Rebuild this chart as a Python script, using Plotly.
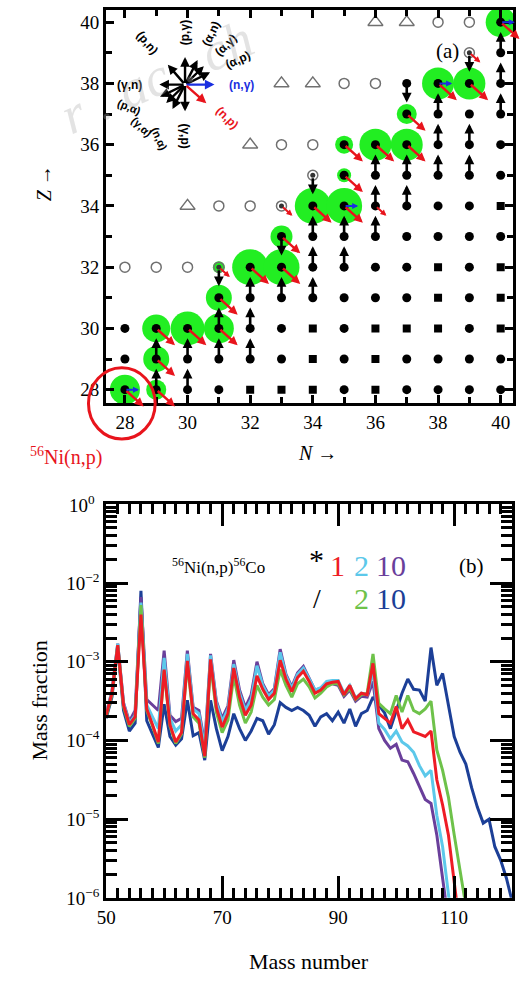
import plotly.graph_objects as go

W, H = 524, 985
SERIF = "Liberation Serif"
SANS = "Liberation Sans"

# ---------------- Panel (a): nuclide chart (N, Z) ----------------
N_RANGE = [27.4, 40.4]
Z_RANGE = [27.55, 40.4]

filled_circle_rows = {
    28: [28, 29, 30, 31, 35, 37, 38, 39, 40],
    29: [28, 29, 30, 31, 32, 33, 35, 37, 38, 39, 40],
    30: [28, 29, 30, 31, 32, 33, 35, 39],
    31: [31, 32, 33, 34, 35, 36, 37, 39],
    32: [32, 33, 34, 35, 36, 37, 39],
    33: [33, 34, 35, 36, 37, 38, 39, 40],
    34: [34, 35, 36, 37, 38, 39],
    35: [35, 36, 37, 38, 39, 40],
    36: [35, 36, 37, 38, 39, 40],
    37: [37, 38, 39, 40],
    38: [37, 38, 39, 40],
    39: [40],
    40: [40],
}
filled_square_rows = {28: [32, 33, 34, 36], 29: [34, 36], 30: [34, 36, 37, 38, 40],
                      31: [38, 40], 32: [38, 40], 34: [40]}
open_circle_rows = {32: [28, 29, 30, 31], 34: [31, 32, 33], 35: [34], 36: [33, 34],
                    38: [35, 36], 39: [39], 40: [38, 39]}
open_triangle_rows = {34: [30], 36: [32], 38: [33, 34], 40: [36, 37]}
inner_dots = [(34, 35), (39, 39), (31, 32), (33, 34)]

# waiting-point halos: (N, Z, diameter)
halos = [(28, 28, 30), (29, 28, 20), (29, 29, 26), (29, 30, 28), (30, 30, 34), (31, 30, 30),
         (31, 31, 26), (31, 32, 12), (32, 32, 36), (33, 32, 36), (33, 33, 22), (34, 34, 36),
         (35, 34, 36), (35, 35, 14), (35, 36, 18), (36, 36, 32), (37, 36, 32), (37, 37, 20),
         (38, 38, 32), (39, 38, 32), (40, 40, 30)]

# reaction flows
pg_flows = [(29, 28), (29, 29), (30, 28), (30, 29), (31, 29), (31, 30), (32, 29), (32, 30),
            (32, 31), (33, 31), (34, 31), (34, 32), (34, 33), (35, 32), (35, 33), (36, 33),
            (36, 34), (36, 35), (37, 34), (37, 35), (38, 35), (38, 36), (38, 37), (39, 35),
            (39, 36), (40, 37), (40, 38), (40, 39)]
gp_flows = [(31, 32), (33, 33), (34, 35), (37, 38), (39, 39)]
np_flows = [(28, 28), (29, 28), (29, 29), (29, 30), (30, 30), (31, 30), (31, 31), (32, 32),
            (33, 32), (33, 33), (34, 34), (35, 34), (35, 35), (35, 36), (36, 36), (37, 36),
            (37, 37), (38, 38), (39, 38), (40, 40)]
np_small = [(31, 32), (36, 34), (39, 39), (33, 34)]
ng_flows = [(28, 28), (35, 34), (38, 38), (40, 40)]

# reaction legend star
STAR = (29.92, 37.96)
star_arrows = [  # (dN, dZ, colour)
    (0.0, 0.9, "black"), (0.0, -0.87, "black"), (-0.82, 0.0, "black"),
    (-0.55, 0.65, "black"), (0.4, 0.8, "black"), (0.6, 0.6, "black"), (0.8, 0.4, "black"),
    (-0.8, -0.4, "black"), (-0.6, -0.6, "black"), (-0.4, -0.8, "black"),
    (0.94, 0.0, "#1a2fe0"), (0.68, -0.61, "#e8141c"),
]
star_labels = [  # (text, dN, dZ, angle, colour, size)
    ("(p,n)", -1.2, 1.35, 50, "black", 12), ("(p,γ)", 0.0, 1.68, -90, "black", 12),
    ("(α,n)", 0.82, 1.66, -64, "black", 12), ("(α,γ)", 1.3, 1.3, -45, "black", 12),
    ("(α,p)", 1.68, 0.8, -24, "black", 12), ("(γ,n)", -1.78, 0.0, 0, "black", 12),
    ("(n,γ)", 1.8, 0.0, 0, "#1a2fe0", 12), ("(n,p)", 1.35, -1.1, 45, "#e8141c", 12),
    ("(p,α)", -1.78, -0.74, 22, "black", 11), ("(γ,α)", -1.38, -1.38, 45, "black", 11),
    ("(n,α)", -0.82, -1.78, 66, "black", 11), ("(γ,p)", 0.0, -1.66, 90, "black", 12),
]

# ---------------- Panel (b): mass fractions (log10), A = 50, 51, ... ----------------
A_START = 50
log_x1 = [-3.68, -3.40, -2.79, -3.55, -3.80, -3.70, -2.40, -3.60, -3.80, -4.02,
          -3.10, -3.80, -4.02, -3.90, -2.99, -3.66, -3.74, -4.20, -2.97, -3.58,
          -3.83, -3.66, -3.08, -3.45, -3.68, -3.55, -3.18, -3.35, -3.48, -3.40,
          -2.98, -3.22, -3.38, -3.20, -3.12, -3.25, -3.40, -3.36, -3.28, -3.26,
          -3.25, -3.42, -3.30, -3.47, -3.40, -3.42, -3.02, -3.66, -3.72, -3.78,
          -3.57, -3.85, -3.74, -3.89, -3.92, -3.95, -3.88, -4.50, -4.82, -5.20,
          -5.80, -6.40]
log_x2 = [-3.66, -3.38, -2.77, -3.53, -3.78, -3.68, -2.25, -3.55, -3.70, -3.85,
          -2.95, -3.72, -3.88, -3.80, -2.90, -3.60, -3.66, -4.10, -2.92, -3.52,
          -3.76, -3.60, -3.03, -3.40, -3.62, -3.48, -3.05, -3.30, -3.44, -3.36,
          -2.88, -3.18, -3.34, -3.16, -3.08, -3.22, -3.36, -3.33, -3.25, -3.24,
          -3.24, -3.40, -3.30, -3.46, -3.40, -3.42, -3.12, -3.78, -3.86, -3.98,
          -3.88, -4.02, -4.07, -4.15, -4.32, -4.45, -4.38, -4.95, -5.35, -5.95,
          -6.50]
log_x10 = [-3.66, -3.38, -2.77, -3.52, -3.76, -3.62, -2.18, -3.48, -3.55, -3.62,
           -2.86, -3.68, -3.76, -3.72, -2.86, -3.58, -3.62, -4.05, -2.90, -3.50,
           -3.72, -3.56, -2.98, -3.36, -3.58, -3.42, -3.00, -3.28, -3.42, -3.34,
           -2.84, -3.16, -3.32, -3.14, -3.06, -3.22, -3.36, -3.34, -3.28, -3.28,
           -3.30, -3.44, -3.36, -3.50, -3.44, -3.45, -3.25, -3.85, -4.00, -4.10,
           -4.05, -4.25, -4.27, -4.42, -4.58, -4.75, -4.80, -5.20, -5.75, -6.30]
log_d2 = [-3.70, -3.42, -2.80, -3.57, -3.82, -3.72, -2.28, -3.62, -3.82, -4.04,
          -3.12, -3.82, -4.04, -3.92, -3.02, -3.70, -3.78, -4.22, -3.02, -3.64,
          -3.90, -3.74, -3.18, -3.55, -3.78, -3.64, -3.30, -3.45, -3.55, -3.48,
          -3.10, -3.30, -3.45, -3.28, -3.22, -3.32, -3.46, -3.40, -3.32, -3.28,
          -3.28, -3.42, -3.34, -3.48, -3.42, -3.40, -2.90, -3.53, -3.60, -3.66,
          -3.43, -3.64, -3.43, -3.62, -3.66, -3.60, -3.50, -4.12, -4.38, -4.72,
          -5.20, -5.62, -6.10]
log_d10 = [-3.72, -3.45, -2.82, -3.62, -3.88, -3.78, -2.10, -3.75, -3.92, -4.09,
           -3.54, -3.95, -4.06, -3.98, -3.49, -3.94, -3.90, -4.25, -3.49, -3.85,
           -4.13, -3.95, -3.66, -3.85, -4.00, -3.88, -3.72, -3.75, -3.92, -3.80,
           -3.52, -3.58, -3.62, -3.58, -3.62, -3.68, -3.82, -3.70, -3.66, -3.75,
           -3.64, -3.78, -3.60, -3.82, -3.66, -3.62, -3.45, -3.55, -3.65, -3.85,
           -3.62, -3.40, -3.22, -3.35, -3.36, -3.50, -2.82, -3.30, -3.15, -3.55,
           -3.95, -4.15, -4.30, -4.60, -4.85, -5.05, -5.00, -5.35, -5.52, -5.75,
           -6.05]

series = [  # (name, values, colour) drawn bottom to top
    ("/10", log_d10, "#1c3f97"),
    ("*10", log_x10, "#6a3f9b"),
    ("*2", log_x2, "#5cc8ea"),
    ("/2", log_d2, "#6ec24a"),
    ("*1", log_x1, "#ee1c25"),
]

X_TICKS_B = [50, 60, 70, 80, 90, 100, 110, 120]
X_TICKTEXT_B = ["50", "", "70", "", "90", "", "110", ""]
Y_TICKS_B = [1e-6, 1e-5, 1e-4, 1e-3, 1e-2]
Y_TICKTEXT_B = ["10<sup>−6</sup>", "10<sup>−5</sup>", "10<sup>−4</sup>", "10<sup>−3</sup>", "10<sup>−2</sup>"]


def px(x):
    return x / W


def py(y):
    return 1 - y / H


def flatten(rows):
    xs, ys = [], []
    for z, ns in rows.items():
        for n in ns:
            xs.append(n)
            ys.append(z)
    return xs, ys


fig = go.Figure()

# halos
fig.add_trace(go.Scatter(x=[h[0] for h in halos], y=[h[1] for h in halos], mode="markers",
                         marker=dict(size=[h[2] for h in halos], color="#22ee22", opacity=1, line=dict(width=0)),
                         hoverinfo="skip", showlegend=False, xaxis="x", yaxis="y"))
tx, ty = flatten(open_triangle_rows)
fig.add_trace(go.Scatter(x=tx, y=ty, mode="markers", showlegend=False, xaxis="x", yaxis="y",
                         marker=dict(symbol="triangle-up-open", size=13, color="#707070", line=dict(width=1.5))))
ox, oy = flatten(open_circle_rows)
fig.add_trace(go.Scatter(x=ox, y=oy, mode="markers", showlegend=False, xaxis="x", yaxis="y",
                         marker=dict(symbol="circle-open", size=10, color="#707070", line=dict(width=1.5))))
sx, sy = flatten(filled_square_rows)
fig.add_trace(go.Scatter(x=sx, y=sy, mode="markers", showlegend=False, xaxis="x", yaxis="y",
                         marker=dict(symbol="square", size=8, color="black")))
cx, cy = flatten(filled_circle_rows)
fig.add_trace(go.Scatter(x=cx, y=cy, mode="markers", showlegend=False, xaxis="x", yaxis="y",
                         marker=dict(symbol="circle", size=9, color="black")))
fig.add_trace(go.Scatter(x=[d[0] for d in inner_dots], y=[d[1] for d in inner_dots], mode="markers",
                         showlegend=False, xaxis="x", yaxis="y",
                         marker=dict(symbol="circle", size=5, color="#333333")))

annotations = []


def arrow(x0, y0, x1, y1, color, width=2.6, size=0.75):
    annotations.append(dict(x=x1, y=y1, ax=x0, ay=y0, xref="x", yref="y", axref="x", ayref="y",
                            showarrow=True, arrowhead=2, arrowsize=size, arrowwidth=width,
                            arrowcolor=color, text=""))


for n, z in pg_flows:
    arrow(n, z + 0.05, n, z + 0.68, "black")
for n, z in gp_flows:
    arrow(n, z - 0.05, n, z - 0.62, "black")
for n, z in np_flows:
    arrow(n, z, n + 0.6, z - 0.55, "#e8141c", width=2.4)
for n, z in np_small:
    arrow(n, z, n + 0.35, z - 0.32, "#e8141c", width=2.0, size=0.6)
for n, z in ng_flows:
    arrow(n, z, n + 0.45, z, "#1a2fe0", width=2.0, size=0.6)

for dn, dz, col in star_arrows:
    arrow(STAR[0], STAR[1], STAR[0] + dn, STAR[1] + dz, col, width=2.4, size=0.8)
for text, dn, dz, ang, col, fs in star_labels:
    annotations.append(dict(x=STAR[0] + dn, y=STAR[1] + dz, xref="x", yref="y", text="<b>" + text + "</b>",
                            showarrow=False, textangle=ang, font=dict(family=SANS, size=fs, color=col)))

# panel (b) lines
for name, vals, col in series:
    xs = list(range(A_START, A_START + len(vals)))
    ys = [10 ** v for v in vals]
    fig.add_trace(go.Scatter(x=xs, y=ys, mode="lines", name=name, showlegend=False,
                             line=dict(color=col, width=3), xaxis="x2", yaxis="y2"))


# text labels
def ptext(text, x, y, size, color="black", angle=0, family=SERIF, xanchor="center"):
    annotations.append(dict(x=px(x), y=py(y), xref="paper", yref="paper", text=text, showarrow=False,
                            textangle=angle, xanchor=xanchor, yanchor="middle",
                            font=dict(family=family, size=size, color=color)))


ptext("<i>r . ac . ch</i>", 150, 78, 54, color="rgba(170,170,170,0.33)", angle=-24)
ptext("(a)", 446, 52, 21)
ptext("<i>Z</i> →", 35, 185, 20, angle=-90)
ptext("<i>N</i> →", 313, 458, 20)
ptext("<sup>56</sup>Ni(n,p)", 57, 462, 20, color="#e8141c")
ptext("(b)", 470, 572, 21)
ptext("<sup>56</sup>Ni(n,p)<sup>56</sup>Co", 213, 572, 17)
ptext("*", 312, 566, 30)
ptext("1", 334, 572, 30, color="#ee1c25")
ptext("2", 358, 572, 30, color="#5cc8ea")
ptext("10", 388, 572, 30, color="#6a3f9b")
ptext("/", 313, 605, 28)
ptext("2", 358, 605, 30, color="#6ec24a")
ptext("10", 388, 605, 30, color="#1c3f97")
ptext("10<sup>0</sup>", 89, 510, 19, xanchor="right")
ptext("Mass fraction", 30, 708, 22, angle=-90)
ptext("Mass number", 305, 972, 22)

shapes = [dict(type="circle", xref="paper", yref="paper", x0=px(80), x1=px(148), y0=py(444), y1=py(372),
               line=dict(color="#e8141c", width=3))]

axis_common = dict(showline=True, linewidth=3, linecolor="black", mirror="allticks", showgrid=False,
                   zeroline=False, ticks="inside", tickcolor="black",
                   tickfont=dict(family=SERIF, size=19, color="black"))

fig.update_layout(
    width=W, height=H, autosize=False, margin=dict(l=0, r=0, t=0, b=0),
    paper_bgcolor="white", plot_bgcolor="white", showlegend=False,
    annotations=annotations, shapes=shapes,
    xaxis=dict(domain=[px(98), px(513)], range=N_RANGE, anchor="y", tickmode="linear", tick0=28, dtick=2,
               ticklen=8, tickwidth=2.5, minor=dict(tickmode="linear", tick0=28, dtick=1, ticks="inside",
                                                    ticklen=6, tickwidth=2.5, tickcolor="black"),
               **axis_common),
    yaxis=dict(domain=[py(408), py(10)], range=Z_RANGE, anchor="x", tickmode="linear", tick0=28, dtick=2,
               ticklen=8, tickwidth=2.5, minor=dict(tickmode="linear", tick0=28, dtick=1, ticks="inside",
                                                    ticklen=6, tickwidth=2.5, tickcolor="black"),
               **axis_common),
    xaxis2=dict(domain=[px(98), px(512)], range=[50, 120], anchor="y2", tickmode="array",
                tickvals=X_TICKS_B, ticktext=X_TICKTEXT_B, ticklen=22, tickwidth=2.5,
                minor=dict(tickmode="array", tickvals=list(range(50, 121, 2)), ticks="inside",
                           ticklen=10, tickwidth=2.5, tickcolor="black"),
                **axis_common),
    yaxis2=dict(domain=[py(908), py(510)], type="log", range=[-6, -1], anchor="x2", tickmode="array",
                tickvals=Y_TICKS_B, ticktext=Y_TICKTEXT_B, ticklen=22, tickwidth=2.5,
                minor=dict(tickmode="array", tickvals=[k * 10.0 ** e for e in range(-6, -1) for k in range(2, 10)],
                           ticks="inside", ticklen=11, tickwidth=2.5, tickcolor="black"),
                **axis_common),
)

fig.write_html("out.html", config={"displayModeBar": False},
               post_script="document.body.style.margin='0px';document.body.style.overflow='hidden';")
